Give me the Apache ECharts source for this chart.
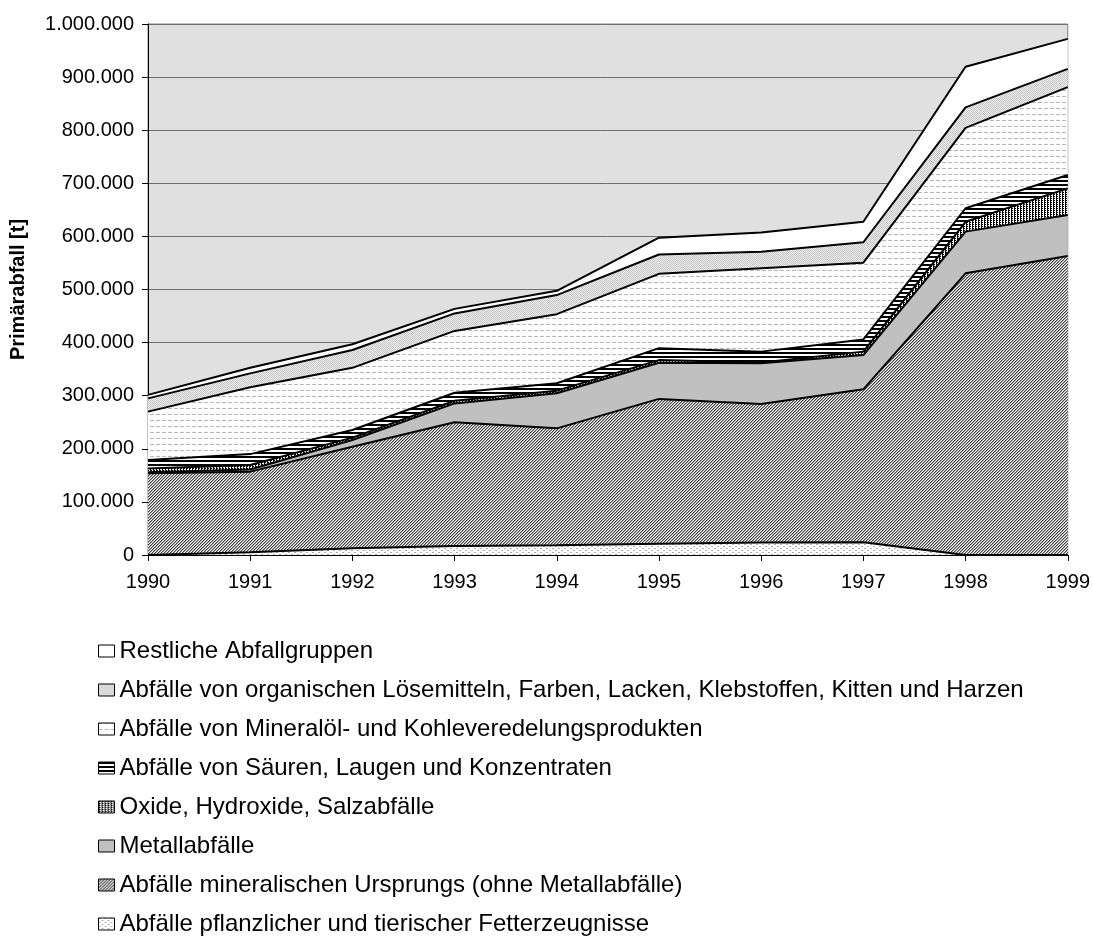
<!DOCTYPE html>
<html>
<head>
<meta charset="utf-8">
<script src="https://cdn.jsdelivr.net/npm/echarts@6/dist/echarts.min.js"></script>
<style>
  html, body { margin: 0; padding: 0; background: #fff; }
  #chart { width: 1093px; height: 937px; }
</style>
</head>
<body>
<div id="chart"></div>
<script>
// Jahre
var years = ['1990','1991','1992','1993','1994','1995','1996','1997','1998','1999'];

// Werte in t, von unten nach oben gestapelt
var fett       = [0, 5000, 12500, 17000, 18500, 21000, 23500, 24000, 0, 0];
var mineral    = [154000, 152000, 191500, 233000, 220000, 273000, 261000, 288000, 530500, 563000];
var metall     = [2000, 4000, 12500, 35500, 66000, 68000, 76500, 64500, 78500, 77500];
var oxide      = [7000, 8500, 4500, 5000, 5000, 5000, 1500, 6500, 18500, 50000];
var saeuren    = [16000, 20500, 14500, 15000, 14000, 22500, 20500, 23000, 25500, 25000];
var mineraloel = [91000, 126000, 117000, 116500, 130000, 140000, 157000, 144500, 151500, 165500];
var loesemittel= [25000, 26000, 33500, 33000, 36000, 36500, 31000, 38500, 38500, 34500];
var restliche  = [6500, 10500, 11000, 8500, 8000, 31500, 36500, 38500, 76500, 56500];

var names = [
  'Abfälle pflanzlicher und tierischer Fetterzeugnisse',
  'Abfälle mineralischen Ursprungs (ohne Metallabfälle)',
  'Metallabfälle',
  'Oxide, Hydroxide, Salzabfälle',
  'Abfälle von Säuren, Laugen und Konzentraten',
  'Abfälle von Mineralöl- und Kohleveredelungsprodukten',
  'Abfälle von organischen Lösemitteln, Farben, Lacken, Klebstoffen, Kitten und Harzen',
  'Restliche Abfallgruppen'
];
var values = [fett, mineral, metall, oxide, saeuren, mineraloel, loesemittel, restliche];

// kleine Füllmuster wie im Excel-Diagramm
function tile(w, h, bg, draw) {
  var c = document.createElement('canvas');
  c.width = w; c.height = h;
  var g = c.getContext('2d');
  g.fillStyle = bg;
  g.fillRect(0, 0, w, h);
  draw(g);
  return { image: c, repeat: 'repeat' };
}
function px(g, col, pts) {
  g.fillStyle = col;
  pts.forEach(function (p) { g.fillRect(p[0], p[1], p[2] || 1, p[3] || 1); });
}

var fills = [
  tile(6, 4, '#ffffff', function (g) { px(g, '#b0b0b0', [[0,0,2,1],[3,2,2,1]]); }),
  tile(3, 3, '#ffffff', function (g) {
    px(g, '#404040', [[0,2],[1,1],[2,0]]);
    px(g, '#a0a0a0', [[1,2],[2,1],[0,0]]);
  }),
  '#c0c0c0',
  tile(3, 2, '#ffffff', function (g) { px(g, '#000', [[0,0,1,2],[1,0,1,1]]); }),
  tile(1, 4, '#ffffff', function (g) { px(g, '#000', [[0,0,1,2]]); }),
  tile(6, 6, '#ffffff', function (g) { px(g, '#b8b8b8', [[0,0,4,1]]); }),
  tile(2, 2, '#f0f0f0', function (g) { px(g, '#c4c4c4', [[0,0],[1,1]]); }),
  '#ffffff'
];

function fmt(v) {
  return String(v).replace(/\B(?=(\d{3})+(?!\d))/g, '.');
}

var series = names.map(function (n, i) {
  return {
    name: n,
    type: 'line',
    stack: 'gesamt',
    data: values[i],
    showSymbol: false,
    symbol: 'none',
    lineStyle: { color: '#000', width: 2 },
    itemStyle: { color: '#000' },
    areaStyle: { color: fills[i], opacity: 1 },
    emphasis: { disabled: true }
  };
});

var legendData = names.slice().reverse().map(function (n) {
  var i = names.indexOf(n);
  return {
    name: n,
    icon: 'rect',
    itemStyle: { color: fills[i], borderColor: '#000', borderWidth: 1 }
  };
});

var chart = echarts.init(document.getElementById('chart'), null, { renderer: 'canvas' });
chart.setOption({
  animation: false,
  textStyle: { fontFamily: 'Liberation Sans, Arial, sans-serif' },
  grid: {
    left: 148, right: 24, top: 24, bottom: 382,
    show: true, backgroundColor: '#e0e0e0', borderColor: '#808080', borderWidth: 1
  },
  legend: {
    orient: 'vertical',
    left: 98, top: 639,
    padding: 0,
    height: 298,
    itemWidth: 16, itemHeight: 12, itemGap: 15,
    selectedMode: false,
    textStyle: { fontSize: 24, color: '#000' },
    data: legendData
  },
  xAxis: {
    type: 'category',
    boundaryGap: false,
    data: years,
    axisLine: { lineStyle: { color: '#000', width: 1 } },
    axisTick: { show: true, length: 6, lineStyle: { color: '#000' } },
    axisLabel: { color: '#000', fontSize: 20, margin: 17 },
    splitLine: { show: false }
  },
  yAxis: {
    type: 'value',
    min: 0, max: 1000000, interval: 100000,
    name: 'Primärabfall [t]',
    nameLocation: 'middle',
    nameGap: 120,
    nameTextStyle: { fontSize: 20, fontWeight: 'bold', color: '#000' },
    axisLine: { show: true, lineStyle: { color: '#000', width: 1 } },
    axisTick: { show: true, length: 6, lineStyle: { color: '#000' } },
    axisLabel: { color: '#000', fontSize: 20, margin: 14, formatter: fmt },
    splitLine: { show: true, lineStyle: { color: '#707070', width: 1 } }
  },
  series: series
});
</script>
</body>
</html>
